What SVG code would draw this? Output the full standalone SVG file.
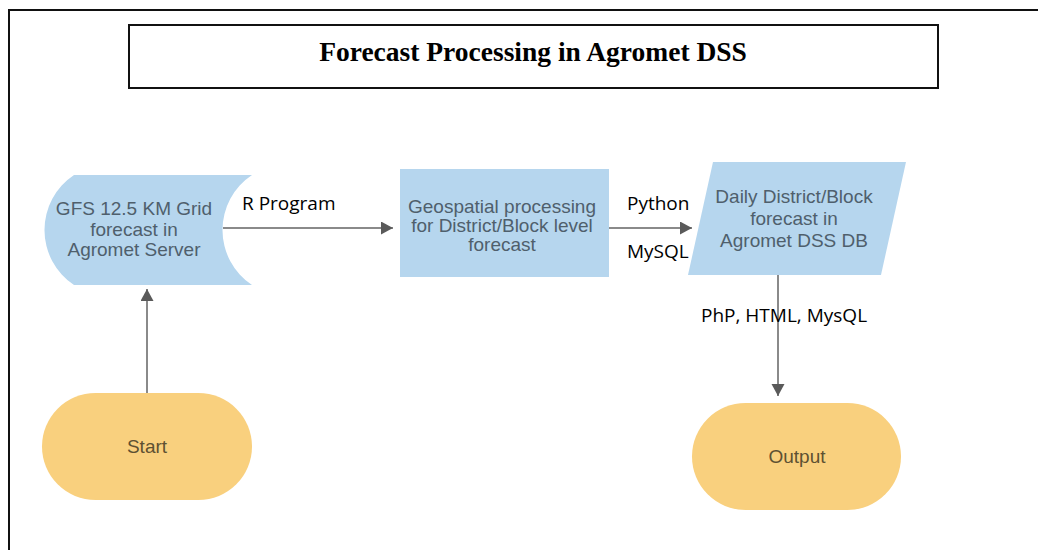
<svg xmlns="http://www.w3.org/2000/svg" width="1038" height="550" viewBox="0 0 1038 550">
  <style>
    .frame { fill: none; stroke: #111; stroke-width: 2; }
    .title { font-family: "Liberation Serif", "Times New Roman", serif; font-weight: bold; font-size: 27.5px; fill: #000; }
    .proc { fill: #b6d6ee; }
    .term { fill: #f9d07e; }
    .ntext { font-family: "Liberation Sans", Arial, sans-serif; font-size: 19px; fill: #4f5f6c; text-anchor: middle; }
    .ttext { font-family: "Liberation Sans", Arial, sans-serif; font-size: 19px; fill: #5e5132; text-anchor: middle; }
    .label { font-family: "Open Sans", "Noto Sans", sans-serif; font-size: 19px; fill: #000; }
    .edge { fill: none; stroke: #8a8a8a; stroke-width: 2; }
  </style>
  <defs>
    <marker id="arrow" markerUnits="userSpaceOnUse" markerWidth="13" markerHeight="14" refX="12" refY="6.5" orient="auto">
      <path d="M0,0 L12,6.5 L0,13 Z" fill="#5a5a5a"/>
    </marker>
  </defs>

  <rect width="1038" height="550" fill="#fff"/>

  <!-- outer frame: top and left edges -->
  <path class="frame" d="M9,560 L9,10 L1040,10"/>

  <g id="title">
    <rect class="frame" x="129" y="25" width="809" height="63" stroke-width="2.5"/>
    <text class="title" x="533" y="61" text-anchor="middle">Forecast Processing in Agromet DSS</text>
  </g>

  <g id="connectors">
    <line class="edge" x1="223" y1="228" x2="393" y2="228" marker-end="url(#arrow)"/>
    <line class="edge" x1="609" y1="228" x2="692" y2="228" marker-end="url(#arrow)"/>
    <line class="edge" x1="778" y1="275" x2="778" y2="396" marker-end="url(#arrow)"/>
    <line class="edge" x1="147" y1="393" x2="147" y2="289" marker-end="url(#arrow)"/>
    <text class="label" x="242" y="210">R Program</text>
    <text class="label" x="627" y="210">Python</text>
    <text class="label" x="627" y="258" font-size="21">MySQL</text>
    <text class="label" x="701" y="322">PhP, HTML, MysQL</text>
  </g>

  <g id="gfs">
    <path class="proc" d="M74,175 L252,175 A66,66 0 0 0 252,285 L74,285 A66,66 0 0 1 74,175 Z"/>
    <text class="ntext" x="134" y="215">GFS 12.5 KM Grid</text>
    <text class="ntext" x="134" y="236">forecast in</text>
    <text class="ntext" x="134" y="256">Agromet Server</text>
  </g>

  <g id="geospatial">
    <rect class="proc" x="400" y="169" width="209" height="108"/>
    <text class="ntext" x="502" y="213" font-size="18">Geospatial processing</text>
    <text class="ntext" x="502" y="232" font-size="18">for District/Block level</text>
    <text class="ntext" x="502" y="251" font-size="18">forecast</text>
  </g>

  <g id="daily-db">
    <polygon class="proc" points="713,162 906,162 881,275 688,275"/>
    <text class="ntext" x="794" y="203">Daily District/Block</text>
    <text class="ntext" x="794" y="225">forecast in</text>
    <text class="ntext" x="794" y="247">Agromet DSS DB</text>
  </g>

  <g id="start">
    <rect class="term" x="42" y="393" width="210" height="107" rx="53.5" ry="53.5"/>
    <text class="ttext" x="147" y="453">Start</text>
  </g>

  <g id="output">
    <rect class="term" x="692" y="403" width="209" height="107" rx="53.5" ry="53.5"/>
    <text class="ttext" x="797" y="463">Output</text>
  </g>
</svg>
